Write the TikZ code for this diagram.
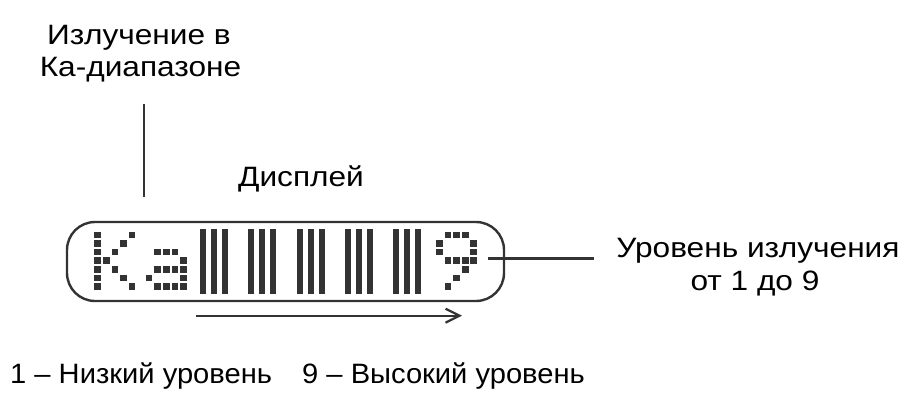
\documentclass[tikz,border=0pt]{standalone}
\usepackage{fontspec}
\setmainfont{Liberation Sans}[FakeStretch=1.13]
\newfontfamily\bottomfont{Liberation Sans}[FakeStretch=1.04]
\usetikzlibrary{arrows.meta}
\definecolor{ink}{HTML}{333333}
\begin{document}
\begin{tikzpicture}[x=1pt,y=-1pt,
  lbl/.style={font=\fontsize{28}{31}\selectfont, inner sep=0pt, text=black},
  blbl/.style={font=\bottomfont\fontsize{28}{31}\selectfont, inner sep=0pt, text=black},
  conn/.style={draw=ink, line width=2.2pt},
  frame/.style={draw=ink, line width=2.4pt, rounded corners=28pt, minimum width=437pt, minimum height=79pt, inner sep=0pt}]
\useasboundingbox (0,0) rectangle (915,396);

% display frame
\node[frame] (disp) at (285.5,261.5) {};

% K
\foreach \c/\r in {0/0,0/1,0/2,0/3,0/4,0/5,0/6,4/0,3/1,2/2,1/3,2/4,3/5,4/6}
  \fill[ink] ({94.3+8.6*\c},{231.5+8.6*\r}) rectangle ++(6.7,6.7);
% a
\foreach \c/\r in {1/2,2/2,3/2,4/3,1/4,2/4,3/4,4/4,0/5,4/5,1/6,2/6,3/6,4/6}
  \fill[ink] ({145.7+8.6*\c},{231.5+8.6*\r}) rectangle ++(6.7,6.7);
% 9
\foreach \c/\r in {1/0,2/0,3/0,0/1,4/1,0/2,4/2,1/3,2/3,3/3,4/3,3/4,2/5,1/6}
  \fill[ink] ({436+8.6*\c},{231.5+8.6*\r}) rectangle ++(6.7,6.7);
% bars
\foreach \g in {0,...,4}
  \foreach \b in {0,1,2}
    \fill[ink] ({200+48.3*\g+11*\b},229) rectangle ++(6,65);

% texts
\node[lbl, anchor=base] (t1) at (139,45) {Излучение в};
\node[lbl, anchor=base] (t2) at (140.5,76) {Ка-диапазоне};
\node[lbl, anchor=base] (t3) at (301,186) {Дисплей};
\node[lbl, anchor=base] (t4) at (758,257) {Уровень излучения};
\node[lbl, anchor=base] (t5) at (755,290) {от 1 до 9};
\node[blbl, anchor=base west] (t6) at (10,383) {1 – Низкий уровень};
\node[blbl, anchor=base east] (t7) at (585,383) {9 – Высокий уровень};

% connectors
\coordinate (kaTop) at (143.7,104);
\coordinate (kaBot) at (143.7,197);
\draw[conn] (kaTop) -- (kaBot);
\coordinate (lvA) at (488,258.5);
\coordinate (lvB) at (594,258.5);
\draw[conn] (lvA) -- (lvB);
\coordinate (arA) at (196,315.7);
\coordinate (arB) at (462,315.7);
\draw[conn, -{Straight Barb[length=14pt,width=14pt,line width=2.2pt]}] (arA) -- (arB);
\end{tikzpicture}
\end{document}
